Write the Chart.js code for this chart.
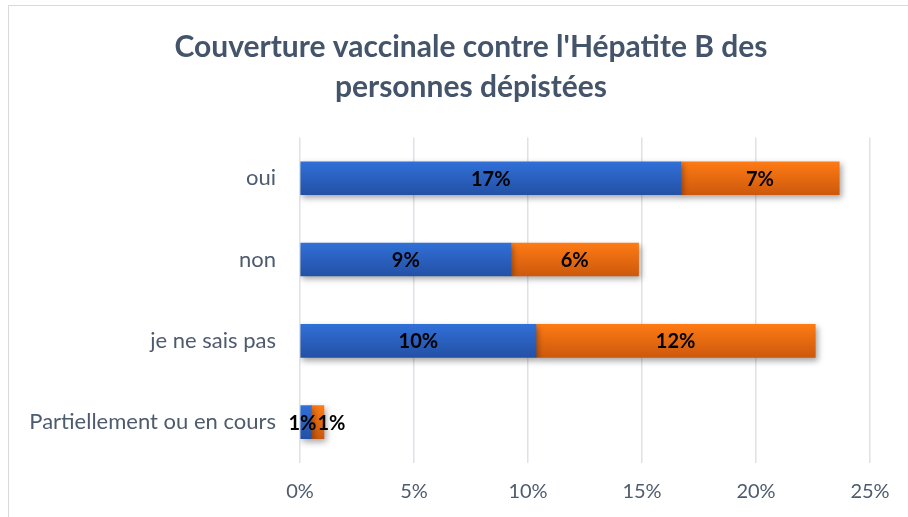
<!DOCTYPE html>
<html>
<head>
<meta charset="utf-8">
<script src="https://cdn.jsdelivr.net/npm/chart.js@4"></script>
<style>
  html, body { margin: 0; padding: 0; background: #fff; overflow: hidden; }
  #boite { position: absolute; left: 8px; top: 5px; border: 1px solid #d9d9d9; }
  canvas { display: block; }
</style>
</head>
<body>
<div id="boite"><canvas id="graphe" width="924" height="540"></canvas></div>
<script>
// données
const categories = ['oui', 'non', 'je ne sais pas', 'Partiellement ou en cours'];
const serie1 = [16.7, 9.25, 10.35, 0.5];
const serie2 = [6.95, 5.6, 12.25, 0.55];
const ticksX = [0, 5, 10, 15, 20, 25];

const ctx = document.getElementById('graphe').getContext('2d');

// dégradé vertical sur chaque barre
function degrade(haut, bas, plein) {
    return function (c) {
        const chart = c.chart;
        const y = chart.scales.y;
        if (!y || c.dataIndex === undefined) return plein;
        const cy = y.getPixelForValue(c.dataIndex);
        if (!isFinite(cy)) return plein;
        const g = chart.ctx.createLinearGradient(0, cy - 17, 0, cy + 17);
        g.addColorStop(0, haut);
        g.addColorStop(1, bas);
        return g;
    };
}

// ombre sous les barres + étiquettes de valeurs
const etiquettes = {
    id: 'etiquettes',
    beforeDatasetsDraw(chart) {
        const c = chart.ctx;
        c.save();
        c.shadowColor = 'rgba(0,0,0,0.35)';
        c.shadowBlur = 6;
        c.shadowOffsetX = 2;
        c.shadowOffsetY = 3;
    },
    afterDatasetsDraw(chart) {
        const c = chart.ctx;
        c.restore();
        c.save();
        c.font = 'bold 20px Lato';
        c.fillStyle = '#000';
        c.textBaseline = 'middle';
        chart.data.datasets.forEach((ds, i) => {
            const meta = chart.getDatasetMeta(i);
            meta.data.forEach((el, j) => {
                const txt = Math.round(ds.data[j]) + '%';
                const larg = Math.abs(el.x - el.base);
                const w = c.measureText(txt).width;
                let x = (el.x + el.base) / 2;
                c.textAlign = 'center';
                if (w > larg) {
                    if (i === 0) { c.textAlign = 'right'; x = el.x + 5; }
                    else { c.textAlign = 'left'; x = el.base + 6; }
                }
                c.fillText(txt, x, el.y + 1);
            });
        });
        c.restore();
    }
};

const monGraphe = new Chart(ctx, {
    type: 'bar',
    data: {
        labels: categories,
        datasets: [{
            label: 'Série 1',
            data: serie1,
            backgroundColor: degrade('#3170d8', '#2350a4', '#2b62c4'),
            barThickness: 33
        }, {
            label: 'Série 2',
            data: serie2,
            backgroundColor: degrade('#ff7b14', '#cc580c', '#f26c10'),
            barThickness: 33
        }]
    },
    options: {
        indexAxis: 'y',
        animation: false,
        responsive: false,
        layout: { padding: 0 },
        plugins: {
            legend: { display: false },
            tooltip: { enabled: false },
            title: {
                display: true,
                text: ["Couverture vaccinale contre l'Hépatite B des", 'personnes dépistées'],
                color: '#44546a',
                font: { family: 'Lato', size: 30, weight: 'bold', lineHeight: 1.333 },
                padding: { top: 21.3, bottom: 30.3 }
            }
        },
        scales: {
            x: {
                stacked: true,
                min: 0,
                max: 25,
                afterBuildTicks: s => { s.ticks = ticksX.map(v => ({ value: v })); },
                afterFit: s => { s.height = 83.2; },
                grid: { color: '#dde1e8', lineWidth: 1.5, drawTicks: false },
                border: { display: false },
                ticks: {
                    padding: 17,
                    color: '#4e5b6e',
                    font: { family: 'Lato', size: 20 },
                    callback: v => v + '%'
                }
            },
            y: {
                stacked: true,
                afterFit: s => { s.width = 291; },
                grid: { display: false },
                border: { display: false },
                ticks: {
                    padding: 16,
                    color: '#4e5b6e',
                    font: { family: 'Lato', size: 22 }
                }
            },
            // axe vide à droite : garde la marge sans décentrer le titre
            marge: {
                type: 'category',
                position: 'right',
                labels: categories,
                afterFit: s => { s.width = 63; },
                grid: { display: false },
                border: { display: false },
                ticks: { display: false }
            }
        }
    },
    plugins: [etiquettes]
});
</script>
</body>
</html>
